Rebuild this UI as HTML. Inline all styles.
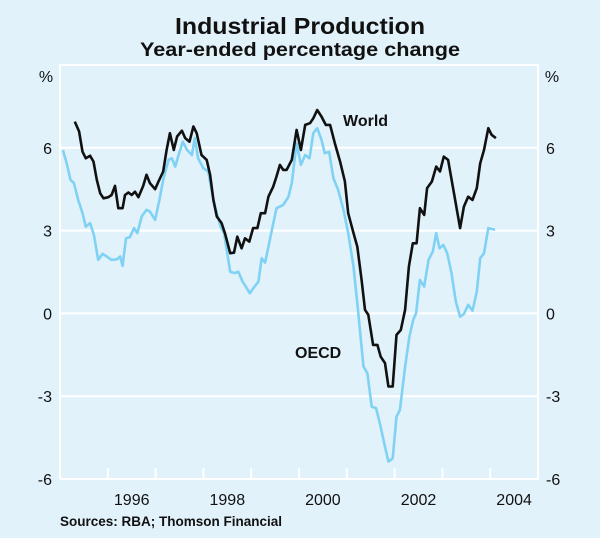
<!DOCTYPE html>
<html><head><meta charset="utf-8"><style>
body{margin:0;background:#e2f2fb;}
svg{display:block;font-family:"Liberation Sans",Arial,sans-serif;}
</style></head><body>
<svg width="600" height="538" viewBox="0 0 600 538">
<rect x="0" y="0" width="600" height="538" fill="#e2f2fb"/>
<text x="300" y="34" text-anchor="middle" font-size="23" font-weight="bold" fill="#111" textLength="250" lengthAdjust="spacingAndGlyphs">Industrial Production</text>
<text x="300" y="56" text-anchor="middle" font-size="19" font-weight="bold" fill="#111" textLength="320" lengthAdjust="spacingAndGlyphs">Year-ended percentage change</text>
<text x="46" y="82" text-anchor="middle" font-size="16" fill="#111">%</text>
<text x="552" y="82" text-anchor="middle" font-size="16" fill="#111">%</text>
<g id="grid"></g>
<g id="axes"></g>
<g id="series"></g>
<text x="343" y="126" font-size="16" font-weight="bold" fill="#111">World</text>
<text x="295" y="358" font-size="16" font-weight="bold" fill="#111">OECD</text>
<text x="60" y="526" font-size="13.5" font-weight="bold" fill="#111">Sources: RBA; Thomson Financial</text>
</svg>
<script>
const yTicks=[6,3,0,-3,-6];
const yTickLabels=["6","3","0","-3","-6"];
const xYears=[1996,1998,2000,2002,2004];
const xYearLabels=["1996","1998","2000","2002","2004"];
const worldDates=[1995.31,1995.40,1995.47,1995.54,1995.63,1995.70,1995.77,1995.84,1995.91,1996.01,1996.08,1996.15,1996.22,1996.31,1996.36,1996.43,1996.50,1996.57,1996.64,1996.74,1996.81,1996.88,1996.99,1997.06,1997.16,1997.23,1997.30,1997.38,1997.45,1997.55,1997.62,1997.71,1997.79,1997.86,1997.96,1998.07,1998.14,1998.21,1998.28,1998.38,1998.45,1998.56,1998.64,1998.71,1998.80,1998.87,1998.96,1999.04,1999.13,1999.20,1999.29,1999.36,1999.46,1999.53,1999.60,1999.67,1999.74,1999.85,1999.95,2000.04,2000.13,2000.23,2000.30,2000.38,2000.47,2000.56,2000.65,2000.75,2000.86,2000.96,2001.03,2001.14,2001.22,2001.31,2001.38,2001.45,2001.55,2001.64,2001.71,2001.80,2001.87,2001.96,2002.04,2002.13,2002.22,2002.30,2002.38,2002.46,2002.53,2002.62,2002.68,2002.78,2002.87,2002.95,2003.03,2003.12,2003.23,2003.37,2003.45,2003.54,2003.63,2003.72,2003.79,2003.87,2003.96,2004.03,2004.12];
const worldValues=[6.95,6.59,5.86,5.62,5.71,5.50,4.84,4.35,4.17,4.21,4.29,4.62,3.81,3.81,4.29,4.38,4.29,4.41,4.21,4.62,5.02,4.72,4.50,4.78,5.14,5.92,6.53,5.92,6.41,6.62,6.35,6.22,6.77,6.53,5.74,5.56,5.02,4.11,3.51,3.27,2.91,2.18,2.20,2.78,2.36,2.72,2.60,3.09,3.09,3.63,3.63,4.23,4.59,4.96,5.38,5.20,5.20,5.56,6.65,5.92,6.83,6.89,7.07,7.37,7.13,6.83,6.83,6.17,5.50,4.78,3.63,2.91,2.42,1.21,0.13,-0.05,-1.14,-1.14,-1.57,-1.80,-2.65,-2.65,-0.78,-0.60,0.13,1.70,2.54,2.54,3.81,3.57,4.54,4.78,5.32,5.14,5.68,5.56,4.47,3.09,3.87,4.23,4.11,4.54,5.44,5.92,6.71,6.47,6.35];
const oecdDates=[1995.06,1995.14,1995.22,1995.29,1995.38,1995.47,1995.54,1995.63,1995.71,1995.80,1995.89,1995.98,1996.08,1996.19,1996.26,1996.31,1996.38,1996.46,1996.55,1996.62,1996.71,1996.81,1996.88,1996.99,1997.08,1997.16,1997.27,1997.34,1997.41,1997.47,1997.57,1997.66,1997.76,1997.82,1997.89,1998.00,1998.10,1998.21,1998.28,1998.36,1998.43,1998.56,1998.66,1998.73,1998.82,1998.91,1998.97,1999.06,1999.15,1999.22,1999.29,1999.39,1999.53,1999.60,1999.67,1999.78,1999.85,1999.95,2000.04,2000.13,2000.22,2000.30,2000.38,2000.47,2000.54,2000.63,2000.72,2000.82,2000.93,2001.03,2001.14,2001.24,2001.35,2001.43,2001.52,2001.61,2001.69,2001.80,2001.87,2001.96,2002.04,2002.11,2002.22,2002.31,2002.39,2002.45,2002.53,2002.62,2002.71,2002.80,2002.87,2002.94,2003.02,2003.10,2003.19,2003.28,2003.37,2003.45,2003.54,2003.63,2003.72,2003.79,2003.87,2003.96,2004.10];
const oecdValues=[5.92,5.44,4.84,4.72,4.11,3.63,3.14,3.27,2.84,1.94,2.16,2.06,1.94,1.96,2.06,1.72,2.72,2.76,3.09,2.91,3.51,3.75,3.69,3.39,4.11,4.84,5.56,5.62,5.32,5.68,6.22,5.92,5.74,6.35,5.62,5.26,5.14,4.11,3.63,3.14,2.91,1.51,1.46,1.51,1.15,0.91,0.73,0.95,1.15,2.00,1.84,2.66,3.81,3.87,3.93,4.23,4.72,6.17,5.38,5.74,5.62,6.53,6.71,6.29,5.80,5.86,4.90,4.47,3.75,2.91,1.70,0.01,-1.93,-2.17,-3.38,-3.43,-3.98,-4.83,-5.37,-5.25,-3.74,-3.50,-1.93,-0.84,-0.24,0.01,1.21,0.97,1.94,2.24,2.91,2.36,2.48,2.18,1.46,0.43,-0.12,-0.02,0.31,0.10,0.79,2.00,2.18,3.09,3.03];

const NS="http://www.w3.org/2000/svg";
const X0=60,X1=538,T0=1995,T1=2005,Y0=65,YB=479,V0=9,V1=-6;
function xs(t){return X0+(t-T0)/(T1-T0)*(X1-X0);}
function ys(v){return Y0+(V0-v)/(V0-V1)*(YB-Y0);}
function mk(tag,attrs,parent){const e=document.createElementNS(NS,tag);for(const k in attrs)e.setAttribute(k,attrs[k]);parent.appendChild(e);return e;}
const grid=document.getElementById('grid'),axes=document.getElementById('axes'),series=document.getElementById('series');
yTicks.forEach((v,i)=>{
  if(v>-6){const l=mk('line',{x1:X0,x2:X1,y1:ys(v),y2:ys(v),stroke:'#fff','stroke-width':2},grid);
  
  }
  const a=mk('text',{x:52,y:ys(v)+6,'text-anchor':'end','font-size':16,fill:'#111'},axes);a.textContent=yTickLabels[i];
  
  
  const b=mk('text',{x:546,y:ys(v)+6,'text-anchor':'start','font-size':16,fill:'#111'},axes);b.textContent=yTickLabels[i];
  
  
});
const frame=mk('path',{d:`M${X0},${YB}V${Y0}H${X1}V${YB}H${X0}`,fill:'none',stroke:'#fff','stroke-width':2},axes);


for(let t=1996;t<2005;t++){
  const k=mk('line',{x1:xs(t),x2:xs(t),y1:YB,y2:YB-11,stroke:'#fff','stroke-width':2},axes);
  
  
}
xYears.forEach((t,i)=>{
  const e=mk('text',{x:xs(t+0.5),y:505,'text-anchor':'middle','font-size':16,fill:'#111'},axes);e.textContent=xYearLabels[i];
  
  
});
function line(d,v,color,name){
  const n=Math.min(d.length,v.length);let p='';
  for(let i=0;i<n;i++)p+=(i?'L':'M')+xs(d[i]).toFixed(1)+','+ys(v[i]).toFixed(1);
  const e=mk('path',{d:p,fill:'none',stroke:color,'stroke-width':2.6,'stroke-linejoin':'round'},series);
  
  
}
line(oecdDates,oecdValues,'#7fd2f4','oecd-line');
line(worldDates,worldValues,'#111','world-line');
</script>
</body></html>
